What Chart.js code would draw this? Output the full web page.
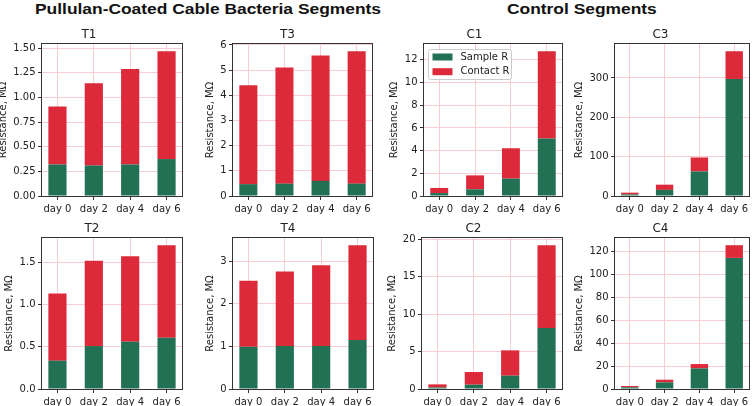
<!DOCTYPE html>
<html>
<head>
<meta charset="utf-8">
<script src="https://cdn.jsdelivr.net/npm/chart.js@4.4.0/dist/chart.umd.min.js"></script>
<style>
  body{margin:0;background:#fff;width:756px;height:406px;overflow:hidden;position:relative}
  canvas{position:absolute}
  .group{position:absolute;top:1.3px;font:bold 15.5px "Liberation Sans",Arial,sans-serif;line-height:15.5px;color:#111;white-space:nowrap;transform-origin:left top}
</style>
</head>
<body>
<div class="group" id="g1" style="left:35px">Pullulan-Coated Cable Bacteria Segments</div>
<div class="group" id="g2" style="left:506.7px">Control Segments</div>
<script>
/* values, MΩ */
const days = ['day 0','day 2','day 4','day 6'];
const seriesNames = ['Sample R','Contact R'];
const yTitle = 'Resistance, MΩ';

const sampleT1 = [0.32, 0.31, 0.32, 0.375];
const contactT1 = [0.587, 0.835, 0.968, 1.094];
const sampleT3 = [0.47, 0.49, 0.60, 0.49];
const contactT3 = [3.93, 4.61, 4.98, 5.26];
const sampleC1 = [0.26, 0.59, 1.53, 5.06];
const contactC1 = [0.45, 1.23, 2.68, 7.70];
const sampleC3 = [4, 15.5, 62.5, 297.5];
const contactC3 = [4.5, 13.3, 35.5, 70.5];
const sampleT2 = [0.335, 0.508, 0.559, 0.606];
const contactT2 = [0.795, 1.008, 1.012, 1.095];
const sampleT4 = [0.99, 1.01, 1.01, 1.15];
const contactT4 = [1.55, 1.75, 1.896, 2.225];
const sampleC2 = [0.2, 0.58, 1.78, 8.15];
const contactC2 = [0.42, 1.69, 3.39, 11.09];
const sampleC4 = [1.5, 5.8, 18, 114.5];
const contactC4 = [1.1, 2.3, 3.8, 11.1];

const panels = [
  {name:'T1', sample:sampleT1, contact:contactT1, step:0.25, dec:2},
  {name:'T3', sample:sampleT3, contact:contactT3, step:1, dec:0},
  {name:'C1', sample:sampleC1, contact:contactC1, step:2, dec:0, legend:true},
  {name:'C3', sample:sampleC3, contact:contactC3, step:100, dec:0},
  {name:'T2', sample:sampleT2, contact:contactT2, step:0.5, dec:1},
  {name:'T4', sample:sampleT4, contact:contactT4, step:1, dec:0},
  {name:'C2', sample:sampleC2, contact:contactC2, step:5, dec:0},
  {name:'C4', sample:sampleC4, contact:contactC4, step:20, dec:0}
];

// plot-area boxes on the page [left, top, right, bottom]
const boxes = [
  [42,44,182,196],[233,44,372,196],[424,44,562,196],[615,44,749,196],
  [42,238,182,389],[233,238,373,389],[422,238,562,389],[615,238,749,389]
];

const GREEN = '#237155', RED = '#dc2a3a', GRID = '#f6cdd2', AXIS = '#333', TXT = '#222';
Chart.defaults.font.family = '"DejaVu Sans", sans-serif';

const frame = {
  id:'frame',
  afterDatasetsDraw(chart){
    const a = chart.chartArea, c = chart.ctx;
    const l = Math.round(a.left)-0.5, t = Math.round(a.top)-0.5;
    c.save(); c.strokeStyle = AXIS; c.lineWidth = 1;
    c.strokeRect(l, t, Math.round(a.right)-Math.round(a.left)+1, Math.round(a.bottom)-Math.round(a.top)+1);
    c.restore();
  }
};

const insideLegend = {
  id:'insideLegend',
  afterDraw(chart){
    const a = chart.chartArea, c = chart.ctx;
    const x = Math.round(a.left)+4.5, y = Math.round(a.top)+5.5;
    c.save();
    c.fillStyle = 'rgba(255,255,255,0.85)'; c.strokeStyle = '#ccc'; c.lineWidth = 1;
    c.beginPath(); c.roundRect(x, y, 83, 30, 2); c.fill(); c.stroke();
    c.font = '10px "DejaVu Sans"'; c.textBaseline = 'middle';
    chart.data.datasets.forEach((ds,i)=>{
      const cy = y + 7.5 + i*14.7;
      c.fillStyle = ds.backgroundColor; c.fillRect(x+4, cy-3.5, 20, 7);
      c.fillStyle = TXT; c.fillText(ds.label, x+32, cy);
    });
    c.restore();
  }
};

function make(p, w, h){
  const cv = document.createElement('canvas');
  cv.width = w; cv.height = h; cv.style.width = w+'px'; cv.style.height = h+'px';
  document.body.appendChild(cv);
  const total = p.sample.map((v,i)=>v+p.contact[i]);
  const chart = new Chart(cv, {
    type:'bar',
    data:{ datasets:[
      {label:seriesNames[0], data:p.sample.map((v,i)=>({x:i,y:v})), backgroundColor:GREEN},
      {label:seriesNames[1], data:p.contact.map((v,i)=>({x:i,y:v})), backgroundColor:RED}
    ]},
    options:{
      responsive:false, maintainAspectRatio:false, animation:false, devicePixelRatio:1,
      layout:{padding:{left:2,right:8,top:0,bottom:2}},
      datasets:{bar:{barPercentage:0.5, categoryPercentage:1, borderWidth:0}},
      plugins:{
        legend:{display:false}, tooltip:{enabled:false},
        title:{display:true, text:p.name, color:TXT, font:{size:12, weight:'normal', lineHeight:1.25}, padding:{top:4,bottom:2}}
      },
      scales:{
        x:{type:'linear', stacked:true, min:-0.425, max:3.425, offset:false,
           grid:{offset:false, color:GRID, tickColor:AXIS, tickLength:4}, border:{display:false},
           ticks:{stepSize:1, includeBounds:false, autoSkip:false, maxRotation:0, padding:3, color:TXT, font:{size:10},
                  callback:v=>days[v]},
           afterFit(s){ s.height = Math.ceil(s.height); }},
        y:{stacked:true, min:0, max:Math.max(...total)*1.05,
           grid:{color:GRID, tickColor:AXIS, tickLength:4}, border:{display:false},
           title:{display:true, text:yTitle, color:TXT, font:{size:10}, padding:{top:1,bottom:1.5}},
           ticks:{stepSize:p.step, includeBounds:false, padding:2.5, color:TXT, font:{size:10},
                  callback:v=>v.toFixed(p.dec)},
           afterFit(s){ s.width = Math.ceil(s.width); }}
      }
    },
    plugins:[frame].concat(p.legend ? [insideLegend] : [])
  });
  return {chart, cv};
}

panels.forEach((p,i)=>{
  const b = boxes[i];
  const W0 = 300, H0 = 260;
  const probe = make(p, W0, H0);
  const a = probe.chart.chartArea;
  const ox = a.left, oy = a.top, padR = W0 - a.right, padB = H0 - a.bottom;
  probe.chart.destroy(); probe.cv.remove();
  const W = Math.round(ox + (b[2]-b[0]) + padR), H = Math.round(oy + (b[3]-b[1]) + padB);
  const fin = make(p, W, H);
  fin.cv.style.left = Math.round(b[0]-ox)+'px';
  fin.cv.style.top = Math.round(b[1]-oy)+'px';
});

// fit group titles to the reference width
const g1 = document.getElementById('g1'), g2 = document.getElementById('g2');
const k = 346 / g1.getBoundingClientRect().width;
g1.style.transform = 'scaleX('+k+')'; g2.style.transform = 'scaleX('+k+')';
</script>
</body>
</html>
